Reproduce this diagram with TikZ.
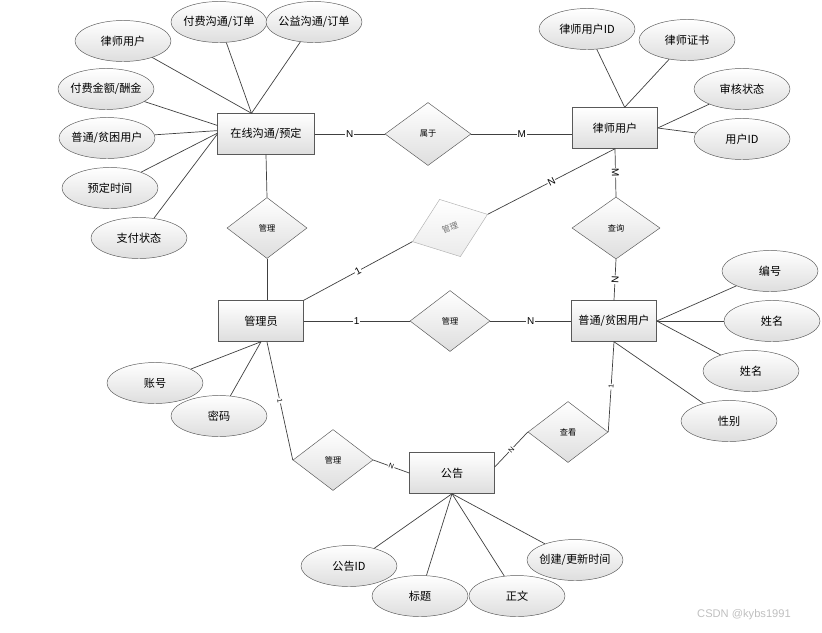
\documentclass[tikz,border=0pt]{standalone}
\usepackage{fontspec}
\setmainfont{Noto Sans CJK SC}
\setsansfont{Liberation Sans}
\usetikzlibrary{shapes.geometric}

\begin{document}
\begin{tikzpicture}[x=0.3mm, y=-0.3mm,
	ent/.style={draw=black!65, top color=white, bottom color=black!13, minimum width=25.5mm, minimum height=12.3mm, font=\fontsize{9.5}{11}\selectfont},
	attr/.style={ellipse, draw=black!65, top color=white, bottom color=black!13, minimum width=28.8mm, minimum height=12.3mm, inner xsep=-2mm, inner ysep=0pt, font=\fontsize{9.5}{11}\selectfont},
	rel/.style={diamond, draw=black!65, top color=white, bottom color=black!13, minimum width=24mm, minimum height=18.3mm, inner sep=0pt, font=\fontsize{7}{8}\selectfont},
	ln/.style={draw=black!75, line width=0.6pt},
	card/.style={fill=white, inner sep=0.6pt, font=\sffamily\fontsize{8.5}{9}\selectfont},
	cards/.style={card, sloped, font=\sffamily\fontsize{6}{6}\selectfont}
]
	\useasboundingbox (0,0) rectangle (822,632);

	% entities
	\node[ent, minimum width=29mm] (zx) at (266,134) {在线沟通/预定};
	\node[ent] (ls) at (615,128) {律师用户};
	\node[ent] (gly) at (261,321) {管理员};
	\node[ent] (pk) at (614,321) {普通/贫困用户};
	\node[ent] (gg) at (452,473) {公告};

	% relations
	\node[rel, minimum width=25.8mm, minimum height=18.9mm] (sy) at (428,134) {属于};
	\node[rel] (gl1) at (267,228) {管理};
	\node[rel, rotate=20, draw=black!30, bottom color=black!8, text=black!55] (gl2) at (450,228) {管理};
	\node[rel] (gl3) at (450,321) {管理};
	\node[rel, minimum width=26.4mm, minimum height=18.6mm] (cx) at (616,228) {查询};
	\node[rel] (gl4) at (333,460) {管理};
	\node[rel] (ck) at (568,432) {查看};

	% attributes
	\node[attr] (a1) at (123,41) {律师用户};
	\node[attr] (a2) at (219,22) {付费沟通/订单};
	\node[attr] (a3) at (314,22) {公益沟通/订单};
	\node[attr] (a4) at (106,89) {付费金额/酬金};
	\node[attr] (a5) at (107,138) {普通/贫困用户};
	\node[attr] (a6) at (110,188) {预定时间};
	\node[attr] (a7) at (139,238) {支付状态};

	\node[attr] (b1) at (587,29) {律师用户ID};
	\node[attr] (b2) at (687,40) {律师证书};
	\node[attr] (b3) at (742,89) {审核状态};
	\node[attr] (b4) at (742,139) {用户ID};

	\node[attr] (c1) at (770,271) {编号};
	\node[attr] (c2) at (772,321) {姓名};
	\node[attr] (c3) at (751,371) {姓名};
	\node[attr] (c4) at (729,421) {性别};

	\node[attr] (d1) at (155,383) {账号};
	\node[attr] (d2) at (219,416) {密码};

	\node[attr] (e1) at (349,566) {公告ID};
	\node[attr] (e2) at (420,596) {标题};
	\node[attr] (e3) at (517,596) {正文};
	\node[attr] (e4) at (575,560) {创建/更新时间};

	% attribute lines
	\foreach \a in {a1,a2,a3}
		\draw[ln] (\a) -- (zx.125);
	\draw[ln] (a4) -- (zx.170);
	\draw[ln] (a5) -- (zx.176);
	\draw[ln] (a6) -- (zx.179);
	\draw[ln] (a7) -- (zx.west);
	\foreach \a in {b1,b2}
		\draw[ln] (\a) -- (ls.65);
	\foreach \a in {b3,b4}
		\draw[ln] (\a) -- (ls.east);
	\foreach \a in {c1,c2,c3}
		\draw[ln] (\a) -- (pk.east);
	\draw[ln] (c4) -- (pk.south);
	\foreach \a in {d1,d2}
		\draw[ln] (\a) -- (gly.south);
	\foreach \a in {e1,e2,e3,e4}
		\draw[ln] (\a) -- (gg.south);

	% relation lines
	\draw[ln] (zx.east) -- node[card] {N} (sy.west);
	\draw[ln] (sy.east) -- node[card] {M} (sy.east -| ls.west);
	\draw[ln] (zx.south) -- (gl1.north);
	\draw[ln] (gl1.south) -- (gl1.south |- gly.north);
	\draw[ln] (cx.north) -- node[card, sloped] {M} (ls.south);
	\draw[ln] (pk.north) -- node[card, sloped] {N} (cx.south);
	\draw[ln] (gly.north east) -- node[card, sloped] {1} (gl2.west);
	\draw[ln] (gl2.east) -- node[card, sloped] {N} (ls.south);
	\draw[ln] (gly.east) -- node[card] {1} (gl3.west);
	\draw[ln] (gl3.east) -- node[card] {N} (pk.west);
	\draw[ln] (gly.-74) -- node[cards] {1} (gl4.west);
	\draw[ln] (gl4.east) -- node[cards] {N} (gg.west);
	\draw[ln] (pk.south) -- node[cards] {1} (ck.east);
	\draw[ln] (ck.west) -- node[cards] {N} (gg.8);

	% watermark
	\node[text=black!25, font=\sffamily\fontsize{9.5}{10}\selectfont] (wm) at (744,615) {CSDN @kybs1991};
\end{tikzpicture}
\end{document}
